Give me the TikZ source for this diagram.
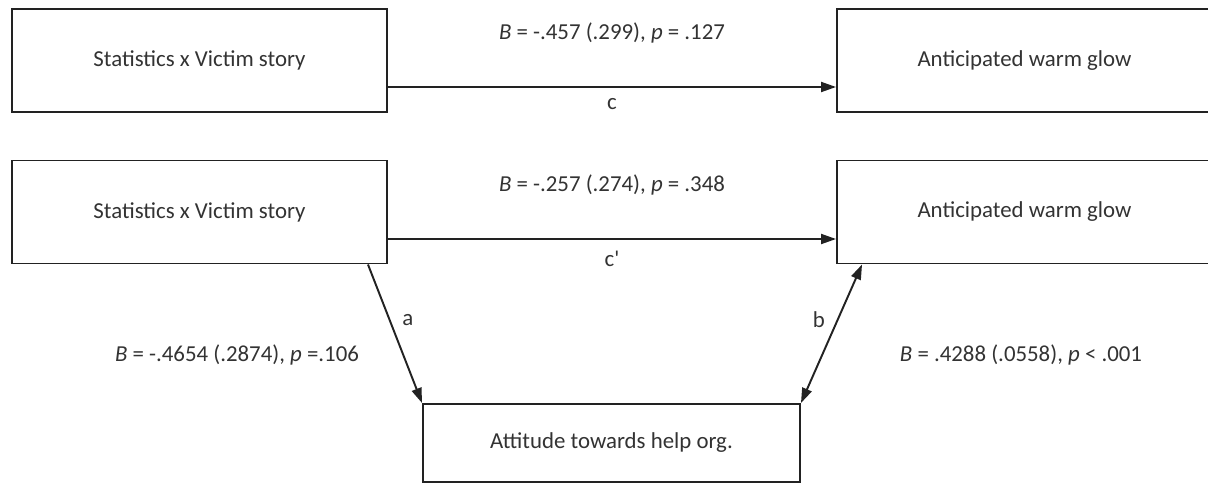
\documentclass[tikz,border=0pt]{standalone}
\usepackage{fontspec}
\setmainfont{Carlito}
\usetikzlibrary{calc,arrows.meta,positioning}
\definecolor{ink}{HTML}{222222}
\definecolor{txt}{HTML}{333333}

\begin{document}
\begin{tikzpicture}[
    varbox/.style={draw=ink,line width=1.1pt,fill=white,minimum width=7.5cm,
                   minimum height=2.06cm,inner sep=0pt,font=\fontsize{13}{15}\selectfont,
                   text=txt},
    path/.style={draw=ink,line width=1.1pt,-{Triangle[length=0.3cm,width=0.2cm]}},
    coef/.style={font=\fontsize{13}{15}\selectfont,text=txt},
]
\useasboundingbox (0,0) rectangle (24.16,9.66);

% ---- positions -----------------------------------------------------------
\def\xL{3.99}
\def\xR{20.49}
\def\yTop{8.45}
\def\yMid{5.42}

% ---- Total effect --------------------------------------------------------
\node[varbox] (stat1) at (\xL,\yTop) {Statistics x Victim story};
\node[varbox] (glow1) at (\xR,\yTop) {Anticipated warm glow};
\draw[path] ($(stat1.east)+(0,-0.53)$) -- ($(glow1.west)+(0,-0.53)$)
    node[midway,below=0.1cm,coef] (lc) {c};
\node[coef] (cTot) at (12.24,9.0) {\textit{B} = -.457 (.299), \textit{p} = .127};

% ---- Mediation model -----------------------------------------------------
\node[varbox] (stat2) at (\xL,\yMid) {Statistics x Victim story};
\node[varbox] (glow2) at (\xR,\yMid) {Anticipated warm glow};
\node[varbox,minimum width=7.54cm,minimum height=1.56cm] (att) at (12.23,0.8)
    {Attitude towards help org.};

\draw[path] ($(stat2.east)+(0,-0.54)$) -- ($(glow2.west)+(0,-0.54)$)
    node[midway,below=0.1cm,coef] (lcp) {c\textquotesingle};
\node[coef] (cDir) at (12.24,5.96) {\textit{B} = -.257 (.274), \textit{p} = .348};

% a path
\draw[path] ($(stat2.south east)+(-0.4,0)$) -- (att.north west)
    node[pos=0.4,right=0.12cm,coef] (la) {a};
\node[coef] (aCoef) at (4.74,2.56) {\textit{B} = -.4654 (.2874), \textit{p} =.106};

% b path
\draw[path,{Triangle[length=0.3cm,width=0.2cm]}-{Triangle[length=0.3cm,width=0.2cm]}]
    (att.north east) -- ($(glow2.south west)+(0.52,0)$)
    node[pos=0.6,left=0.12cm,coef] (lb) {b};
\node[coef] (bCoef) at (20.42,2.56) {\textit{B} = .4288 (.0558), \textit{p} < .001};

\end{tikzpicture}
\end{document}
